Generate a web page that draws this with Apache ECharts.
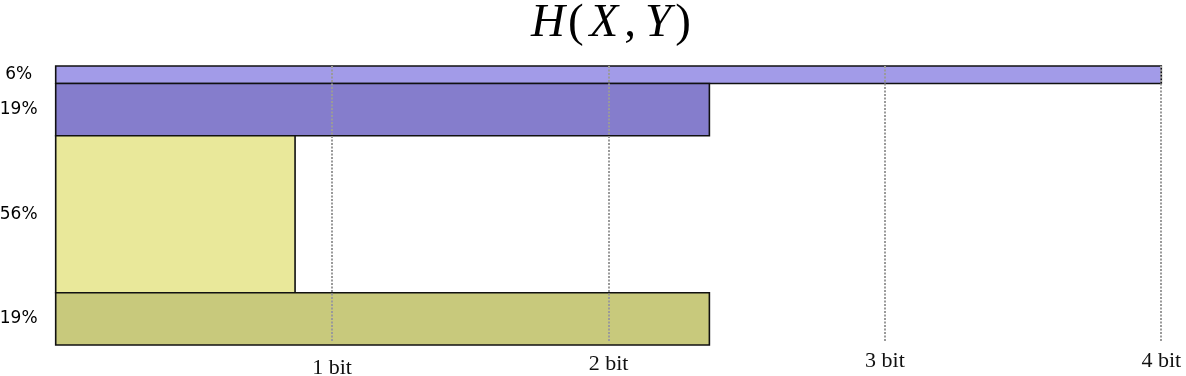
<!DOCTYPE html>
<html>
<head>
<meta charset="utf-8">
<script src="https://cdn.jsdelivr.net/npm/echarts@6/dist/echarts.min.js"></script>
<style>html,body{margin:0;padding:0;background:#fff;}#c{width:1186px;height:376px;}</style>
</head>
<body>
<div id="c"></div>
<script>
// ---- data ----
const categories = ['6%', '19%', '56%', '19%'];
const probabilities = [6.25, 18.75, 56.25, 18.75];   // percent, band height
const bits = [4, 2.365, 0.866, 2.365];                 // band width in bits
const tickValues = [1, 2, 3, 4];
const tickLabels = ['1 bit', '2 bit', '3 bit', '4 bit'];
const colors = ['#a29be8', '#857dcc', '#e9e89a', '#c8c97c'];

// ---- build ----
const barData = [];
let acc = 0;
for (let i = 0; i < probabilities.length; i++) {
  barData.push([acc, acc + probabilities[i], bits[i], i]);
  acc += probabilities[i];
}
const labelDy = [23, 19.5, 16.5, 16];
const base = {fontFamily: 'Liberation Serif', fontSize: 47, fontWeight: 'normal', color: '#000'};

const chart = echarts.init(document.getElementById('c'), null, {renderer: 'canvas'});
chart.setOption({
  animation: false,
  title: {
    left: 526,
    top: -5,
    text: '{h|H}{lp|(}{x|X}{c|,}{y|Y}{rp|)}',
    textStyle: {
      fontWeight: 'normal',
      rich: {
        h: Object.assign({}, base, {fontStyle: 'italic', padding: [0, 3, 0, 0]}),
        lp: Object.assign({}, base, {padding: [0, 6, 0, 0]}),
        x: Object.assign({}, base, {fontStyle: 'italic', padding: [0, 6, 0, 0]}),
        c: Object.assign({}, base, {padding: [0, 9, 0, 0]}),
        y: Object.assign({}, base, {fontStyle: 'italic', padding: [0, 4, 0, 0]}),
        rp: Object.assign({}, base, {})
      }
    }
  },
  grid: {left: 55.7, right: 24.7, top: 66, bottom: 31},
  xAxis: {type: 'value', min: 0, max: 4, show: false},
  yAxis: {type: 'value', min: 0, max: 100, inverse: true, show: false},
  series: [
    {
      type: 'custom',
      z: 2,
      data: barData,
      renderItem: function (params, api) {
        const s = api.value(0), e = api.value(1), w = api.value(2), idx = api.value(3);
        const p0 = api.coord([0, s]);
        const p1 = api.coord([w, e]);
        return {
          type: 'group',
          children: [
            {
              type: 'rect',
              shape: {x: p0[0], y: p0[1], width: p1[0] - p0[0], height: p1[1] - p0[1]},
              style: {fill: colors[idx], stroke: '#111', lineWidth: 1.6}
            },
            {
              type: 'text',
              style: {
                x: p0[0] - 37, y: (p0[1] + p1[1]) / 2,
                text: categories[idx],
                fontFamily: 'DejaVu Sans', fontSize: 17, fill: '#000',
                align: 'center', verticalAlign: 'middle'
              }
            }
          ]
        };
      }
    },
    {
      type: 'custom',
      z: 5,
      data: tickValues.map((v, i) => [v, i]),
      renderItem: function (params, api) {
        const v = api.value(0), i = api.value(1);
        const top = api.coord([v, 0]);
        const bot = api.coord([v, 100]);
        const x = Math.round(top[0]);
        return {
          type: 'group',
          children: [
            {
              type: 'line',
              shape: {x1: x, y1: top[1], x2: x, y2: bot[1] - 4},
              style: {stroke: '#9a9a9a', lineWidth: 2, lineDash: [2, 1.5]}
            },
            {
              type: 'text',
              style: {
                x: bot[0], y: bot[1] + labelDy[i],
                text: tickLabels[i],
                fontFamily: 'Liberation Serif', fontSize: 22, fill: '#111',
                align: 'center', verticalAlign: 'middle'
              }
            }
          ]
        };
      }
    }
  ]
});
</script>
</body>
</html>
